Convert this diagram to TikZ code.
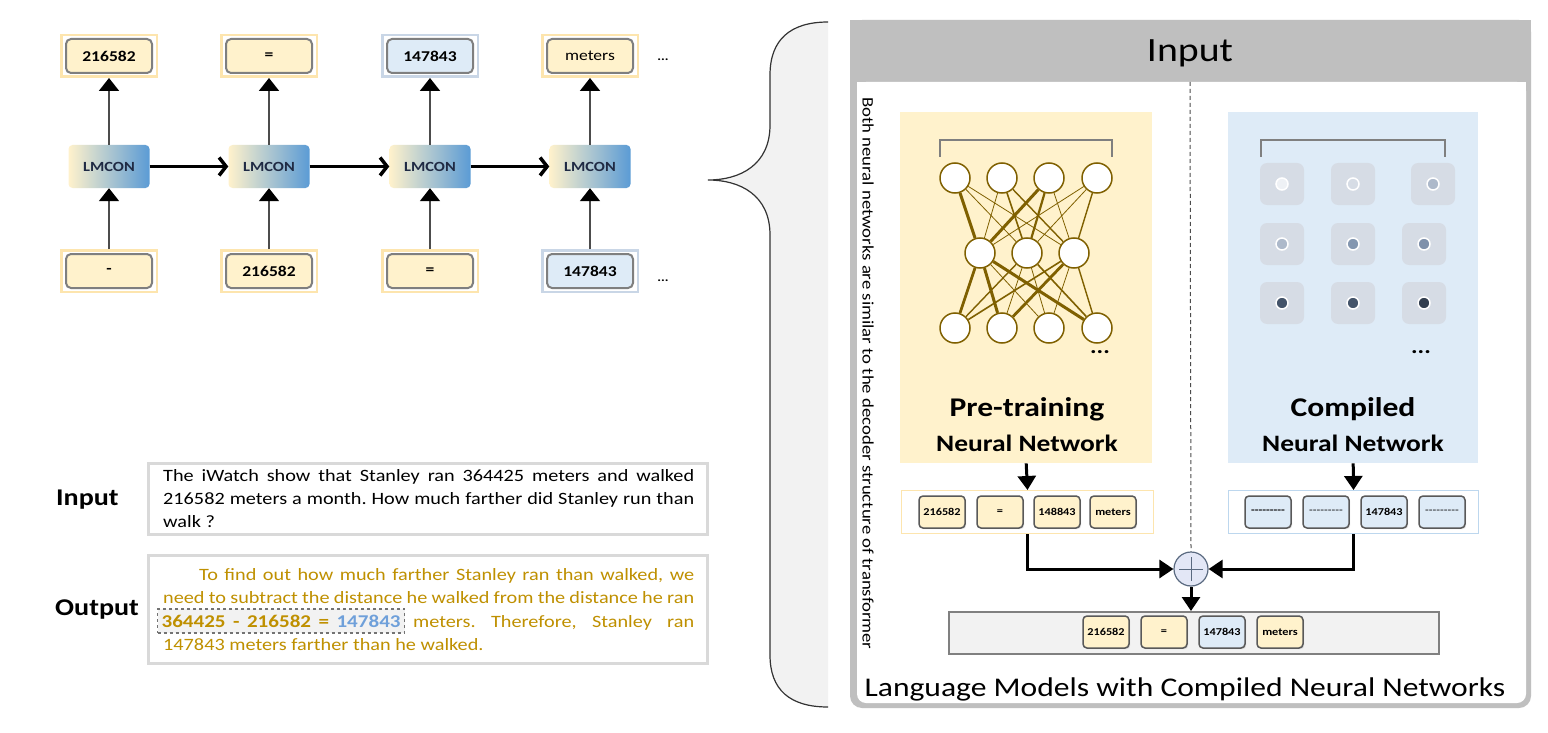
\documentclass[tikz,border=0pt]{standalone}
\usepackage{fontspec}
\setmainfont{Carlito}[FakeStretch=1.17]
\usetikzlibrary{arrows.meta,shadows}
\definecolor{yel}{HTML}{FFF2CC}
\definecolor{yelband}{HTML}{FDE5AE}
\definecolor{blu}{HTML}{DEEBF7}
\definecolor{bluband}{HTML}{C9D6E6}
\definecolor{tokgray}{HTML}{7F7F7F}
\definecolor{gold}{HTML}{BF9000}
\definecolor{eqblue}{HTML}{6FA0DA}
\definecolor{nnbrown}{HTML}{7F6000}
\definecolor{sqgray}{HTML}{D6DCE5}
\definecolor{hdrgray}{HTML}{BFBFBF}
\definecolor{lightfill}{HTML}{F2F2F2}
\definecolor{lmblue}{HTML}{5B9BD5}
\definecolor{lmtext}{HTML}{1F2A44}
\definecolor{boxgray}{HTML}{D9D9D9}
\definecolor{rowblue}{HTML}{BDD7EE}
\definecolor{plusfill}{HTML}{E3E7F6}
\definecolor{plusdraw}{HTML}{5A6A80}
\definecolor{dotA}{HTML}{EEF1F5}
\definecolor{dotB}{HTML}{D6DCE5}
\definecolor{dotC}{HTML}{ADB9CA}
\definecolor{dotD}{HTML}{8497B0}
\definecolor{dotE}{HTML}{7F91AB}
\definecolor{dotF}{HTML}{44546A}
\definecolor{dotG}{HTML}{333F50}
\tikzset{
  glowY/.style={draw=yelband, line width=2.5pt, fill=white, minimum width=95.5pt, minimum height=41.5pt, inner sep=0pt},
  glowB/.style={glowY, draw=bluband},
  tok/.style={draw=tokgray, line width=2pt, rounded corners=5pt, minimum width=86pt, minimum height=34pt, inner sep=0pt, font=\fontsize{15}{18}\selectfont\bfseries},
  tokY/.style={tok, fill=yel},
  tokB/.style={tok, fill=blu},
  lmbox/.style={rounded corners=4pt, minimum width=81pt, minimum height=43pt, left color=yel, right color=lmblue, text=lmtext, font=\fontsize{14}{16}\selectfont\bfseries},
  uparr/.style={draw=black!70, line width=2pt, -{Triangle[length=13pt,width=20pt,color=black]}},
  harr/.style={draw=black, line width=3.5pt, -{Straight Barb[length=7pt,width=18pt]}},
  bigarr/.style={draw=black, line width=3pt, -{Triangle[length=14pt,width=18pt]}},
  txt/.style={anchor=base west, inner sep=0pt, font=\fontsize{17.3}{22}\selectfont},
  neu/.style={circle, draw=nnbrown, line width=1.5pt, fill=white, minimum size=30pt, inner sep=0pt},
  sq/.style={fill=sqgray, rounded corners=7pt, minimum width=44pt, minimum height=42pt, inner sep=0pt},
  dot/.style={circle, draw=white, line width=1.5pt, minimum size=12pt, inner sep=0pt},
  stok/.style={draw=black!65, line width=1.5pt, rounded corners=4pt, minimum width=46pt, minimum height=32pt, inner sep=0pt, font=\fontsize{10.5}{12}\selectfont\bfseries, drop shadow={opacity=0.25, shadow xshift=1.2pt, shadow yshift=-1.2pt}},
  stokY/.style={stok, fill=yel},
  stokB/.style={stok, fill=blu},
  bigtitle/.style={font=\fontsize{27}{32}\selectfont\bfseries},
  subtitle/.style={font=\fontsize{23.5}{28}\selectfont\bfseries},
}
\begin{document}
\frenchspacing
\begin{tikzpicture}[x=1pt,y=-1pt]
\useasboundingbox (0,0) rectangle (1548,733);
\fill[white] (0,0) rectangle (1548,733);

% ---------------- left: LMCON chain ----------------
\foreach \i/\x in {1/109,2/269,3/430,4/590}{
  \node[lmbox] (lm\i) at (\x,166.5) {LMCON};
}
\node[glowY] (ot1g) at (109,56) {};
\node[tokY] (ot1) at (109,56) {216582};
\node[glowY] (ot2g) at (269,56) {};
\node[tokY] (ot2) at (269,56) {=};
\node[glowB] (ot3g) at (430,56) {};
\node[tokB] (ot3) at (430,56) {147843};
\node[glowY] (ot4g) at (590,56) {};
\node[tokY, font=\fontsize{15}{18}\selectfont] (ot4) at (590,56) {meters};
\node[glowY] (it1g) at (109,271) {};
\node[tokY] (it1) at (109,271) {-};
\node[glowY] (it2g) at (269,271) {};
\node[tokY] (it2) at (269,271) {216582};
\node[glowY] (it3g) at (430,271) {};
\node[tokY] (it3) at (430,271) {=};
\node[glowB] (it4g) at (590,271) {};
\node[tokB] (it4) at (590,271) {147843};

\foreach \i in {1,2,3,4}{
  \draw[uparr] (it\i g.north) -- (lm\i.south);
  \draw[uparr] (lm\i.north) -- (ot\i g.south);
}
\draw[harr] (lm1.east) -- (lm2.west);
\draw[harr] (lm2.east) -- (lm3.west);
\draw[harr] (lm3.east) -- (lm4.west);
\node[font=\bfseries\fontsize{12}{14}\selectfont] (dotsa) at (663,60) {...};
\node[font=\bfseries\fontsize{12}{14}\selectfont] (dotsb) at (663,281) {...};

% ---------------- left: input / output ----------------
\node[draw=boxgray, line width=3pt, fill=white, minimum width=559pt, minimum height=71pt, anchor=north west, inner sep=0pt] (inbox) at (147,462) {};
\node[draw=boxgray, line width=3pt, fill=white, minimum width=559pt, minimum height=108pt, anchor=north west, inner sep=0pt] (outbox) at (147,554) {};
\node[anchor=base west, inner sep=0pt, font=\bfseries\fontsize{24}{28}\selectfont] (inlbl) at (56,505) {Input};
\node[anchor=base west, inner sep=0pt, font=\bfseries\fontsize{24}{28}\selectfont] (outlbl) at (55,615) {Output};

\node[txt] (i1) at (163,481) {\makebox[531pt][s]{The iWatch show that Stanley ran 364425 meters and walked}};
\node[txt] (i2) at (163,504) {\makebox[531pt][s]{216582 meters a month. How much farther did Stanley run than}};
\node[txt] (i3) at (163,527) {walk ?};

\node[txt, text=gold] (o1) at (199,580) {\makebox[495pt][s]{To find out how much farther Stanley ran than walked, we}};
\node[txt, text=gold] (o2) at (163,603) {\makebox[531pt][s]{need to subtract the distance he walked from the distance he ran}};
\node[anchor=base west, draw=black!55, dashed, line width=1.2pt, fill=lightfill, inner xsep=4pt, inner ysep=3pt, text height=15pt, text depth=3pt, text=gold, font=\fontsize{18}{22}\selectfont\bfseries] (o3a) at (157,627) {\makebox[239pt][s]{364425 - 216582 = \textcolor{eqblue}{147843}}};
\node[txt, text=gold] (o3b) at (413,627) {\makebox[281pt][s]{meters. Therefore, Stanley ran}};
\node[txt, text=gold] (o4) at (163,650) {147843 meters farther than he walked.};

% ---------------- brace ----------------
\fill[lightfill] (828,22) .. controls (790,22) and (770,40) .. (770,75) -- (770,125)
  .. controls (770,165) and (740,180) .. (708,180)
  .. controls (740,180) and (770,195) .. (770,235) -- (770,655)
  .. controls (770,690) and (790,707) .. (828,707) -- cycle;
\draw[black!80, line width=1.2pt] (828,22) .. controls (790,22) and (770,40) .. (770,75) -- (770,125)
  .. controls (770,165) and (740,180) .. (708,180)
  .. controls (740,180) and (770,195) .. (770,235) -- (770,655)
  .. controls (770,690) and (790,707) .. (828,707);

% ---------------- right panel frame ----------------
\fill[hdrgray, rounded corners=12pt] (850,20) rectangle (1531,708);
\fill[hdrgray] (850,20) rectangle (1531,100);
\fill[white, rounded corners=9pt] (857,82) rectangle (1526,703);
\fill[white] (857,82) rectangle (1526,120);
\node[font=\fontsize{34}{40}\selectfont] (hdr) at (1190,53) {Input};
\node[anchor=west, rotate=-90, inner sep=0pt, font=\fontsize{16}{18}\selectfont] (vtext) at (868,97) {Both neural networks are similar to the decoder structure of transformer};

% NN boxes
\node[fill=yel, minimum width=252pt, minimum height=351pt, anchor=north west, inner sep=0pt] (ptbox) at (900,112) {};
\node[fill=blu, minimum width=250pt, minimum height=351pt, anchor=north west, inner sep=0pt] (cbox) at (1228,112) {};
\draw[tokgray, line width=1.5pt] (940,157) -- (940,140) -- (1112,140) -- (1112,157);
\draw[tokgray, line width=1.5pt] (1261,157) -- (1261,140) -- (1445,140) -- (1445,157);

% pre-training network
\foreach \i/\x in {1/955,2/1002,3/1049,4/1097}{
  \node[neu] (na\i) at (\x,178) {};
  \node[neu] (nc\i) at (\x,328) {};
}
\foreach \i/\x in {1/980,2/1027,3/1074}{
  \node[neu] (nb\i) at (\x,253) {};
}
\foreach \a/\b/\w in {1/1/3pt,1/2/0.8pt,1/3/0.8pt,2/1/0.8pt,2/2/1.6pt,2/3/1.4pt,3/1/3pt,3/2/2.2pt,3/3/0.8pt,4/1/0.8pt,4/2/0.8pt,4/3/1.4pt}{
  \draw[nnbrown, line width=\w] (na\a) -- (nb\b);
}
\foreach \b/\c/\w in {1/1/2.8pt,1/2/3pt,1/3/0.8pt,1/4/3pt,2/1/1.4pt,2/2/0.8pt,2/3/0.8pt,2/4/1.6pt,3/1/1.6pt,3/2/2.8pt,3/3/0.8pt,3/4/1.4pt}{
  \draw[nnbrown, line width=\w] (nb\b) -- (nc\c);
}
\node[font=\bfseries\fontsize{21}{24}\selectfont] (nndots) at (1100,352) {...};
\node[bigtitle] (pttitle) at (1027,409) {Pre-training};
\node[subtitle] (ptsub) at (1027,443) {Neural Network};

% compiled network
\node[sq] (s11) at (1282,184) {};
\node[sq] (s12) at (1353,184) {};
\node[sq] (s13) at (1433,184) {};
\node[sq] (s21) at (1282,244) {};
\node[sq] (s22) at (1353,244) {};
\node[sq] (s23) at (1424,244) {};
\node[sq] (s31) at (1282,303) {};
\node[sq] (s32) at (1353,303) {};
\node[sq] (s33) at (1424,303) {};
\node[dot, fill=dotA] (d11) at (s11) {};
\node[dot, fill=dotB] (d12) at (s12) {};
\node[dot, fill=dotC] (d13) at (s13) {};
\node[dot, fill=dotC] (d21) at (s21) {};
\node[dot, fill=dotD] (d22) at (s22) {};
\node[dot, fill=dotE] (d23) at (s23) {};
\node[dot, fill=dotF] (d31) at (s31) {};
\node[dot, fill=dotF] (d32) at (s32) {};
\node[dot, fill=dotG] (d33) at (s33) {};
\node[font=\bfseries\fontsize{21}{24}\selectfont] (cdots) at (1421,352) {...};
\node[bigtitle] (ctitle) at (1353,409) {Compiled};
\node[subtitle] (csub) at (1353,443) {Neural Network};

% token rows
\node[draw=yelband, line width=1pt, fill=white, minimum width=252pt, minimum height=43pt, anchor=north west, inner sep=0pt] (prow) at (901,490) {};
\node[draw=rowblue, line width=1pt, fill=white, minimum width=250pt, minimum height=43pt, anchor=north west, inner sep=0pt] (crow) at (1228,490) {};
\node[stokY] (p1) at (942,512) {216582};
\node[stokY] (p2) at (1000,512) {=};
\node[stokY] (p3) at (1057,512) {148843};
\node[stokY] (p4) at (1113,512) {meters};
\node[stokB] (c1) at (1268,512) {-{}-{}-{}-{}-{}-{}-{}-{}-};
\node[stokB, font=\fontsize{10.5}{12}\selectfont] (c2) at (1326,512) {-{}-{}-{}-{}-{}-{}-{}-{}-};
\node[stokB] (c3) at (1384,512) {147843};
\node[stokB, font=\fontsize{10.5}{12}\selectfont] (c4) at (1442,512) {-{}-{}-{}-{}-{}-{}-{}-{}-};

% combine
\node[circle, draw=plusdraw, line width=1.2pt, fill=plusfill, minimum size=34pt, inner sep=0pt] (plus) at (1191,569) {};
\draw[plusdraw, line width=1pt] ([xshift=-12pt]plus.center) -- ([xshift=12pt]plus.center);
\draw[plusdraw, line width=1pt] ([yshift=-12pt]plus.center) -- ([yshift=12pt]plus.center);
\coordinate (dtop) at (1190,82);
\draw[black!70, line width=1pt, dash pattern=on 4pt off 3pt] (dtop) -- (plus.north);

\node[draw=black!50, line width=2pt, fill=lightfill, minimum width=490pt, minimum height=42pt, anchor=north west, inner sep=0pt] (brow) at (948,611) {};
\node[stokY] (b1) at (1106,632) {216582};
\node[stokY] (b2) at (1164,632) {=};
\node[stokB] (b3) at (1222,632) {147843};
\node[stokY] (b4) at (1280,632) {meters};

\draw[bigarr] (ptbox.south) -- (prow.north);
\draw[bigarr] (cbox.south) -- (crow.north);
\draw[bigarr] (prow.south) |- (plus.west);
\draw[bigarr] (crow.south) |- (plus.east);
\draw[bigarr] (plus.south) -- (brow.north -| plus.south);

\node[font=\fontsize{27}{32}\selectfont] (lbl) at (1185,689) {Language Models with Compiled Neural Networks};
\end{tikzpicture}
\end{document}
